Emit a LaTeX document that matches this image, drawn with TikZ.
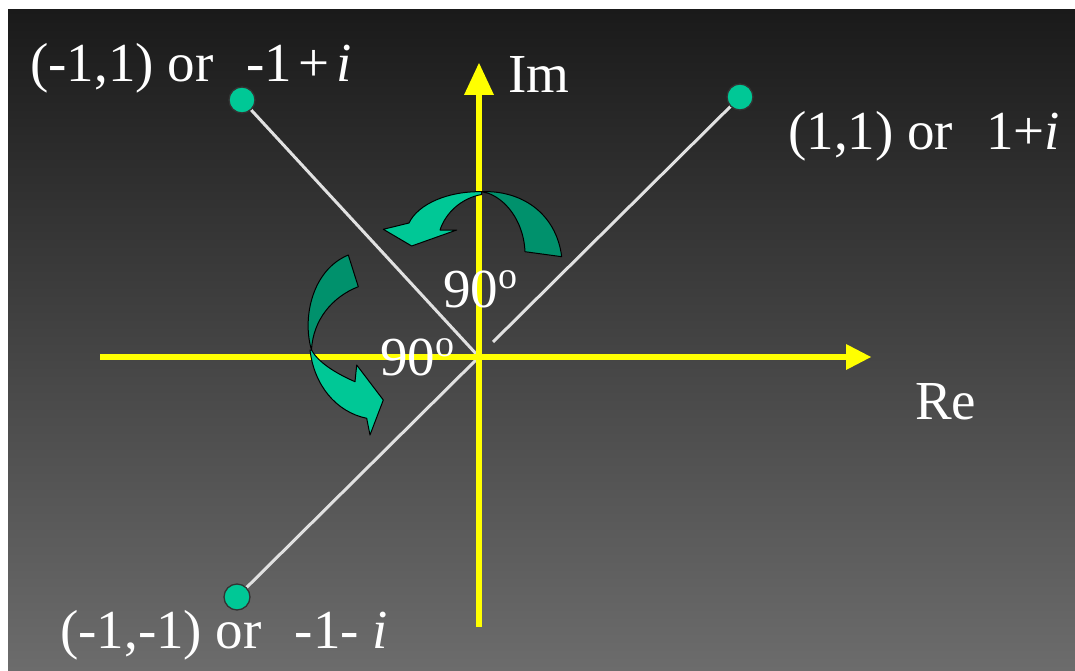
\documentclass[tikz,border=0pt]{standalone}
\usepackage{fontspec}
\setmainfont{Liberation Serif}
\definecolor{bgtop}{RGB}{26,26,26}
\definecolor{bgbot}{RGB}{108,108,108}
\definecolor{axisyellow}{RGB}{255,255,0}
\definecolor{rayc}{RGB}{225,225,225}
\definecolor{dotgreen}{RGB}{0,200,150}
\definecolor{frontgreen}{RGB}{0,200,150}
\definecolor{backgreen}{RGB}{0,145,108}
\newcommand{\degsup}{\raisebox{19pt}{\fontsize{38}{38}\selectfont o}}
\begin{document}
\begin{tikzpicture}[x=1pt,y=-1pt,
  lbl/.style={text=white,font=\fontsize{55}{62}\selectfont,inner sep=0pt,anchor=base west},
  dotnode/.style={circle,draw=black!80,line width=1.3pt,fill=dotgreen,minimum size=26pt,inner sep=0pt},
  ray/.style={draw=rayc,line width=3pt},
  axisline/.style={draw=axisyellow,line width=6pt},
  axistip/.style={fill=axisyellow},
  front/.style={fill=frontgreen,draw=black,line width=1pt,line join=round},
  back/.style={fill=backgreen,draw=black,line width=1pt,line join=round}]
\useasboundingbox (0,0) rectangle (1075,671);
\fill[white] (0,0) rectangle (1075,671);
\shade[top color=bgtop,bottom color=bgbot] (8,10) rectangle (1075,671);

% coordinates
\coordinate (O) at (479,357);
\coordinate (Oq) at (493,342);
\coordinate (ytop) at (479,94);
\coordinate (ybot) at (479,627);
\coordinate (xl) at (100,357);
\coordinate (xr) at (848,357);
\coordinate (c2) at (242,100);
\coordinate (c1) at (740,97);
\coordinate (c3) at (237,597);

% rays
\draw[ray] (c2) -- (O);
\draw[ray] (c1) -- (Oq);
\draw[ray] (c3) -- (O);

% axes
\draw[axisline] (ybot) -- (ytop);
\draw[axisline] (xl) -- (xr);
\fill[axistip] (479,63) -- (464,95) -- (494,95) -- cycle;
\fill[axistip] (871,357) -- (846,344) -- (846,370) -- cycle;

% points
\node[dotnode] (p2) at (c2) {};
\node[dotnode] (p1) at (c1) {};
\node[dotnode] (p3) at (c3) {};

% upper curved arrow
\path[back] (481.7,191.7) .. controls (520,190) and (556,212) .. (561.7,256.7)
  -- (525,251.7) .. controls (524,226) and (510,202) .. (489,193.5) -- cycle;
\path[front] (481.7,191.7) .. controls (448,191) and (418,204) .. (409,223)
  -- (383.3,229.3) -- (411.7,246) -- (456.7,230) -- (440,230)
  .. controls (446,212) and (462,198) .. (481.7,194.5) -- cycle;

% lower curved arrow
\path[back] (348.3,255) -- (358.3,286.7) .. controls (332,297) and (313,320) .. (311.5,350)
  .. controls (302,318) and (312,270) .. (348.3,255) -- cycle;
\path[front] (310,350) .. controls (314,385) and (336,412) .. (366.7,418.3)
  -- (370,435) -- (383.3,400) -- (356.7,365) -- (355,381.7)
  .. controls (335,373) and (318,362) .. (311.5,350) -- cycle;

% labels
\node[lbl] (l2) at (30,82) {(-1,1) or\hspace{0.6em}-1\hspace{0.12em}+\hspace{0.12em}\textit{i}};
\node[lbl] (l1) at (788,150) {(1,1) or\hspace{0.6em}1+\textit{i}};
\node[lbl] (l3) at (60,648) {(-1,-1) or\hspace{0.6em}-1- \textit{i}};
\node[lbl] (im) at (508,93) {Im};
\node[lbl] (re) at (915,419) {Re};
\node[lbl] (a1) at (443,307) {90\degsup};
\node[lbl] (a2) at (380,375) {90\degsup};
\end{tikzpicture}
\end{document}
